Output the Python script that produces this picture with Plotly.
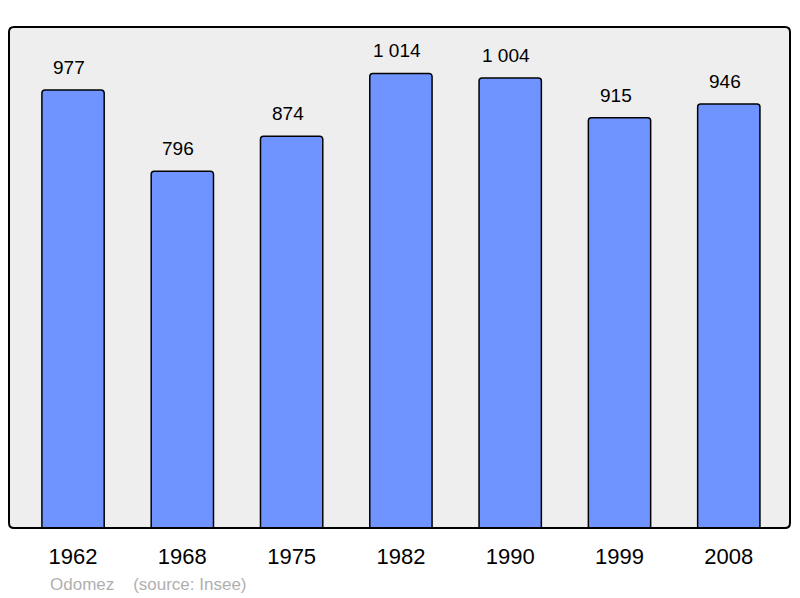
import plotly.graph_objects as go

years = ["1962", "1968", "1975", "1982", "1990", "1999", "2008"]
population = [977, 796, 874, 1014, 1004, 915, 946]
value_labels = [f"{v:,}".replace(",", " ") for v in population]

W, H = 800, 598
L, R, T, B = 9, 10, 27, 70
FONT = "Liberation Sans, Arial, sans-serif"

fig = go.Figure()
fig.add_trace(go.Bar(
    x=years,
    y=population,
    width=0.57,
    marker=dict(color="#7094ff", line=dict(color="#000000", width=1.5), cornerradius=3),
    hoverinfo="x+y",
))

# value labels above the bars (x as category index, "1962" would be read as a number)
for i, (v, lab) in enumerate(zip(population, value_labels)):
    fig.add_annotation(
        x=i, y=v, text=lab, showarrow=False,
        yanchor="bottom", yshift=10, xshift=-4,
        font=dict(family=FONT, size=19, color="#000000"),
    )

fig.add_annotation(
    xref="paper", yref="paper", x=(48 - L) / (W - L - R), y=-(584 - (H - B)) / (H - T - B),
    xanchor="left", yanchor="middle", showarrow=False,
    text="Odomez&nbsp;&nbsp;&nbsp;&nbsp;(source: Insee)",
    font=dict(family=FONT, size=17, color="#b0b0b0"),
)

# rounded frame around the plot area
rx = 5 / (W - L - R)
ry = 5 / (H - T - B)
path = (
    f"M {rx},0 L {1 - rx},0 Q 1,0 1,{ry} L 1,{1 - ry} Q 1,1 {1 - rx},1 "
    f"L {rx},1 Q 0,1 0,{1 - ry} L 0,{ry} Q 0,0 {rx},0 Z"
)
fig.add_shape(type="path", xref="paper", yref="paper", path=path,
              line=dict(color="#000000", width=2), fillcolor="rgba(0,0,0,0)", layer="above")

fig.update_layout(
    width=W, height=H,
    margin=dict(l=L, r=R, t=T, b=B),
    paper_bgcolor="#ffffff",
    plot_bgcolor="#eeeeee",
    showlegend=False,
    font=dict(family=FONT, color="#000000"),
    xaxis=dict(
        type="category", range=[-0.586, 6.56],
        showgrid=False, zeroline=False, showline=False,
        ticks="outside", ticklen=9, tickcolor="rgba(0,0,0,0)",
        tickfont=dict(size=22, color="#000000"),
    ),
    yaxis=dict(
        range=[0, 1117.5], showgrid=False, zeroline=False,
        showline=False, showticklabels=False, ticks="",
    ),
)

# drop the page margin so the figure sits at the window's top-left corner
fig.write_html("out.html", config={"displayModeBar": False},
               post_script="document.body.style.margin='0';")
